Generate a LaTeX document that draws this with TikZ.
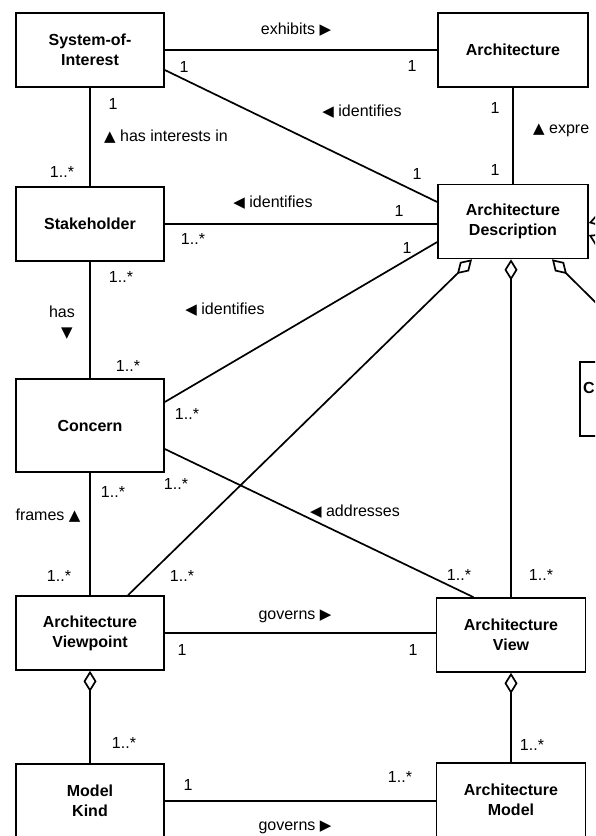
\documentclass[tikz,border=0pt]{standalone}
\usepackage{fontspec}
\setmainfont{Liberation Sans}
\newfontfamily\symfont{DejaVu Sans}
\usetikzlibrary{arrows.meta}
\newcommand{\tRight}{{\symfont\fontsize{15}{15}\selectfont ▶}}
\newcommand{\tLeft}{{\symfont\fontsize{15}{15}\selectfont ◀}}
\newcommand{\tUp}{{\symfont\fontsize{15}{15}\selectfont ▲}}
\newcommand{\tDown}{{\symfont\fontsize{15}{15}\selectfont ▼}}
\tikzset{
  box/.style={draw, line width=1.6pt, minimum width=148pt, minimum height=74pt,
    inner sep=0pt, align=center, font=\bfseries\fontsize{16}{20}\selectfont},
  conn/.style={line width=1.7pt},
  lbl/.style={font=\fontsize{16}{19}\selectfont, inner sep=0pt, text height=11.5pt, text depth=0pt},
  agg/.style={{Diamond[open,length=21pt,width=13pt]}-}
}
\begin{document}
\begin{tikzpicture}[x=1pt,y=-1pt]
\useasboundingbox (0,0) rectangle (595,836);
\clip (0,0) rectangle (595,836);
% boxes
\node[box] (soi) at (90,50) {System-of-\\Interest};
\node[box, minimum width=150pt] (arch) at (513,50) {Architecture};
\node[box] (sh) at (90,224) {Stakeholder};
\node[box, minimum width=150pt] (ad) at (513,221.5) {Architecture\\Description};
\node[box, minimum height=93pt] (con) at (90,425.5) {Concern};
\node[box, minimum width=150pt] (cbox) at (655,399) {};
\node[lbl, font=\bfseries\fontsize{16}{20}\selectfont, anchor=west] (ctext) at (583,388) {C};
\node[box] (vp) at (90,633) {Architecture\\Viewpoint};
\node[box, minimum width=149pt] (view) at (511,635) {Architecture\\View};
\node[box, minimum width=149pt] (am) at (511,800) {Architecture\\Model};
\node[box] (mk) at (90,801) {Model\\Kind};
\coordinate (off1) at (650,205);
\coordinate (off2) at (650,265);
% connectors
\draw[conn] (soi.east) -- (arch.west);
\draw[conn] ([yshift=-20pt]soi.east) -- ([yshift=19.5pt]ad.west);
\draw[conn] (soi.south) -- (sh.north);
\draw[conn] (arch.south) -- (ad.north);
\draw[conn] (sh.east) -- (sh.east -| ad.west);
\draw[conn] (sh.south) -- (con.north);
\draw[conn] ([yshift=23.5pt]con.east) -- ([yshift=-20.5pt]ad.west);
\draw[conn] ([yshift=-23.5pt]con.east) -- ([xshift=-37.5pt]view.north);
\draw[conn] (con.south) -- (vp.north);
\draw[conn, agg] ([xshift=-41pt]ad.south) -- ([xshift=38pt]vp.north);
\draw[conn, agg] (view.north |- ad.south) -- (view.north);
\draw[conn, agg] ([xshift=39pt]ad.south) -- (cbox.north);
\draw[conn, agg] ([yshift=-1.5pt]ad.east) -- (off1);
\draw[conn, agg] ([yshift=-13.5pt]ad.east) -- (off2);
\draw[conn] (vp.east) -- (vp.east -| view.west);
\draw[conn, agg] (vp.south) -- (mk.north);
\draw[conn, agg] (view.south) -- (am.north);
\draw[conn] (mk.east) -- (mk.east -| am.west);
% association labels
\node[lbl] (l1) at (296,29) {exhibits \tRight};
\node[lbl] (l2) at (362,111) {\tLeft\ identifies};
\node[lbl, anchor=west] (l3) at (104,136) {\tUp\ has interests in};
\node[lbl, anchor=west] (l4) at (533,128) {\tUp\ expre};
\node[lbl] (l5) at (273,202) {\tLeft\ identifies};
\node[lbl] (l6) at (62,312) {has};
\node[lbl] (l7) at (67,332) {\tDown};
\node[lbl] (l8) at (225,309) {\tLeft\ identifies};
\node[lbl] (l9) at (355,511) {\tLeft\ addresses};
\node[lbl] (l10) at (48,515) {frames \tUp};
\node[lbl] (l11) at (295,614) {governs \tRight};
\node[lbl] (l12) at (295,825) {governs \tRight};
% multiplicities
\node[lbl] (m1) at (184,67) {1};
\node[lbl] (m2) at (412,66) {1};
\node[lbl] (m3) at (113,104) {1};
\node[lbl] (m4) at (62,172) {1..*};
\node[lbl] (m5) at (495,108) {1};
\node[lbl] (m6) at (495,170) {1};
\node[lbl] (m7) at (417,174) {1};
\node[lbl] (m8) at (399,211) {1};
\node[lbl] (m9) at (193,239) {1..*};
\node[lbl] (m10) at (407,248) {1};
\node[lbl] (m11) at (121,277) {1..*};
\node[lbl] (m12) at (128,366) {1..*};
\node[lbl] (m13) at (187,414) {1..*};
\node[lbl] (m14) at (176,484) {1..*};
\node[lbl] (m15) at (113,492) {1..*};
\node[lbl] (m16) at (59,576) {1..*};
\node[lbl] (m17) at (182,576) {1..*};
\node[lbl] (m18) at (459,575) {1..*};
\node[lbl] (m19) at (541,575) {1..*};
\node[lbl] (m20) at (182,650) {1};
\node[lbl] (m21) at (413,650) {1};
\node[lbl] (m22) at (124,743) {1..*};
\node[lbl] (m23) at (532,745) {1..*};
\node[lbl] (m24) at (188,785) {1};
\node[lbl] (m25) at (400,777) {1..*};
\end{tikzpicture}
\end{document}
